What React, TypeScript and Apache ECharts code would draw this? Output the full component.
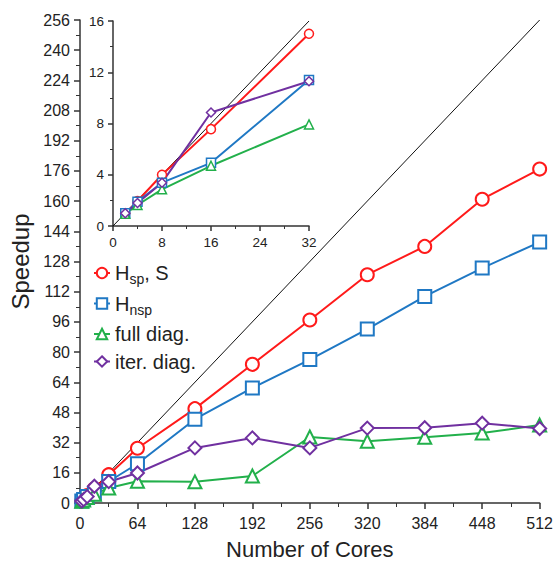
import React, { useEffect, useRef } from "react";
import * as echarts from "echarts";

const cores = [2, 4, 8, 16, 32, 64, 128, 192, 256, 320, 384, 448, 512];
const hspS = [1.0, 1.95, 4.0, 7.56, 15.0, 29, 50, 73.5, 97, 121, 136, 161, 177];
const hnsp = [1.0, 1.9, 3.38, 4.93, 11.4, 20.8, 44.4, 61, 76, 92.2, 109.5, 124.5, 138.3];
const fullDiag = [0.95, 1.64, 2.86, 4.7, 7.93, 11.5, 11.2, 14.3, 35, 32.7, 34.8, 37.1, 41.3];
const iterDiag = [1.0, 1.8, 3.38, 8.86, 11.3, 15.9, 29.2, 34.5, 29.2, 39.7, 39.9, 42.3, 39.5];
const idealMain = [[0, 0], [512, 256]];
const idealInset = [[0, 0], [32, 16]];
const insetMaxCores = 32;

const seriesDefs = [
  { name: "Hsp, S", label: "{n|H}{s|sp}{n|, S}", data: hspS, color: "#ff1a1a", symbol: "circle" },
  { name: "Hnsp", label: "{n|H}{s|nsp}", data: hnsp, color: "#1f78c4", symbol: "rect" },
  { name: "full diag.", label: "{n|full diag.}", data: fullDiag, color: "#22b04b", symbol: "triangle" },
  { name: "iter. diag.", label: "{n|iter. diag.}", data: iterDiag, color: "#7030a0", symbol: "diamond" },
];

const FONT = "'Liberation Sans', Arial, sans-serif";
const TXT = "#222";
const AX = "#333";

export default function App() {
  const ref = useRef<HTMLDivElement>(null);
  useEffect(() => {
    if (!ref.current) return;
    const chart = echarts.init(ref.current, undefined, { renderer: "svg" });
    const axisCommon = {
      axisLine: { show: true, lineStyle: { color: AX, width: 1.5 } },
      splitLine: { show: false },
    };
    const mainSeries = seriesDefs.map((d) => ({
      name: d.name,
      type: "line",
      xAxisIndex: 0,
      yAxisIndex: 0,
      data: cores.map((c, i) => [c, d.data[i]]),
      symbol: d.symbol,
      symbolSize: 13,
      lineStyle: { color: d.color, width: 2 },
      itemStyle: { color: "#fff", borderColor: d.color, borderWidth: 2 },
      z: 3,
    }));
    const insetSeries = seriesDefs.map((d) => ({
      name: d.name,
      type: "line",
      xAxisIndex: 1,
      yAxisIndex: 1,
      data: cores.map((c, i) => [c, d.data[i]]).filter((p) => p[0] <= insetMaxCores),
      symbol: d.symbol,
      symbolSize: 9,
      lineStyle: { color: d.color, width: 2 },
      itemStyle: { color: "#fff", borderColor: d.color, borderWidth: 1.5 },
      z: 3,
    }));
    const labelMap: Record<string, string> = {};
    seriesDefs.forEach((d) => (labelMap[d.name] = d.label));
    chart.setOption({
      animation: false,
      textStyle: { fontFamily: FONT },
      legend: {
        orient: "vertical",
        left: 88,
        top: 258,
        itemWidth: 16,
        itemHeight: 13,
        itemGap: 7.5,
        data: seriesDefs.map((d) => d.name),
        formatter: (name: string) => labelMap[name],
        textStyle: {
          fontFamily: FONT,
          color: TXT,
          rich: {
            n: { fontSize: 20, fontFamily: FONT, color: TXT, lineHeight: 26 },
            s: { fontSize: 14, fontFamily: FONT, color: TXT, verticalAlign: "bottom", lineHeight: 26 },
          },
        },
      },
      grid: [
        { left: 80, right: 14, top: 20, bottom: 57 },
        { left: 113, width: 196, top: 21, height: 205 },
      ],
      xAxis: [
        {
          ...axisCommon,
          type: "value",
          gridIndex: 0,
          min: 0,
          max: 512,
          interval: 64,
          name: "Number of Cores",
          nameLocation: "middle",
          nameGap: 35,
          nameTextStyle: { fontSize: 22, color: TXT, fontFamily: FONT },
          axisTick: { show: true, length: 6, lineStyle: { color: AX, width: 1.5 } },
          minorTick: { show: true, splitNumber: 2, length: 4, lineStyle: { color: AX } },
          axisLabel: { fontSize: 16, color: TXT, margin: 12, fontFamily: FONT },
        },
        {
          ...axisCommon,
          type: "value",
          gridIndex: 1,
          min: 0,
          max: 32,
          interval: 8,
          axisTick: { show: true, length: 5, lineStyle: { color: AX, width: 1.5 } },
          minorTick: { show: true, splitNumber: 2, length: 3, lineStyle: { color: AX } },
          axisLabel: { fontSize: 13.5, color: TXT, margin: 9, fontFamily: FONT },
        },
      ],
      yAxis: [
        {
          ...axisCommon,
          type: "value",
          gridIndex: 0,
          min: 0,
          max: 256,
          interval: 16,
          name: "Speedup",
          nameLocation: "middle",
          nameGap: 45,
          nameTextStyle: { fontSize: 24, color: TXT, fontFamily: FONT },
          axisTick: { show: true, length: 6, lineStyle: { color: AX, width: 1.5 } },
          minorTick: { show: true, splitNumber: 2, length: 4, lineStyle: { color: AX } },
          axisLabel: { fontSize: 16, color: TXT, margin: 10, fontFamily: FONT },
        },
        {
          ...axisCommon,
          type: "value",
          gridIndex: 1,
          min: 0,
          max: 16,
          interval: 4,
          axisTick: { show: true, length: 5, lineStyle: { color: AX, width: 1.5 } },
          minorTick: { show: true, splitNumber: 2, length: 3, lineStyle: { color: AX } },
          axisLabel: { fontSize: 13.5, color: TXT, margin: 9, fontFamily: FONT },
        },
      ],
      series: [
        {
          name: "ideal",
          type: "line",
          xAxisIndex: 0,
          yAxisIndex: 0,
          data: idealMain,
          symbol: "none",
          silent: true,
          lineStyle: { color: "#111", width: 1 },
          z: 1,
        },
        {
          name: "ideal inset",
          type: "line",
          xAxisIndex: 1,
          yAxisIndex: 1,
          data: idealInset,
          symbol: "none",
          silent: true,
          lineStyle: { color: "#111", width: 1 },
          z: 1,
        },
        ...mainSeries,
        ...insetSeries,
      ],
    });
    return () => chart.dispose();
  }, []);
  return <div ref={ref} style={{ width: 556, height: 565, position: "absolute", left: 0, top: 0 }} />;
}
